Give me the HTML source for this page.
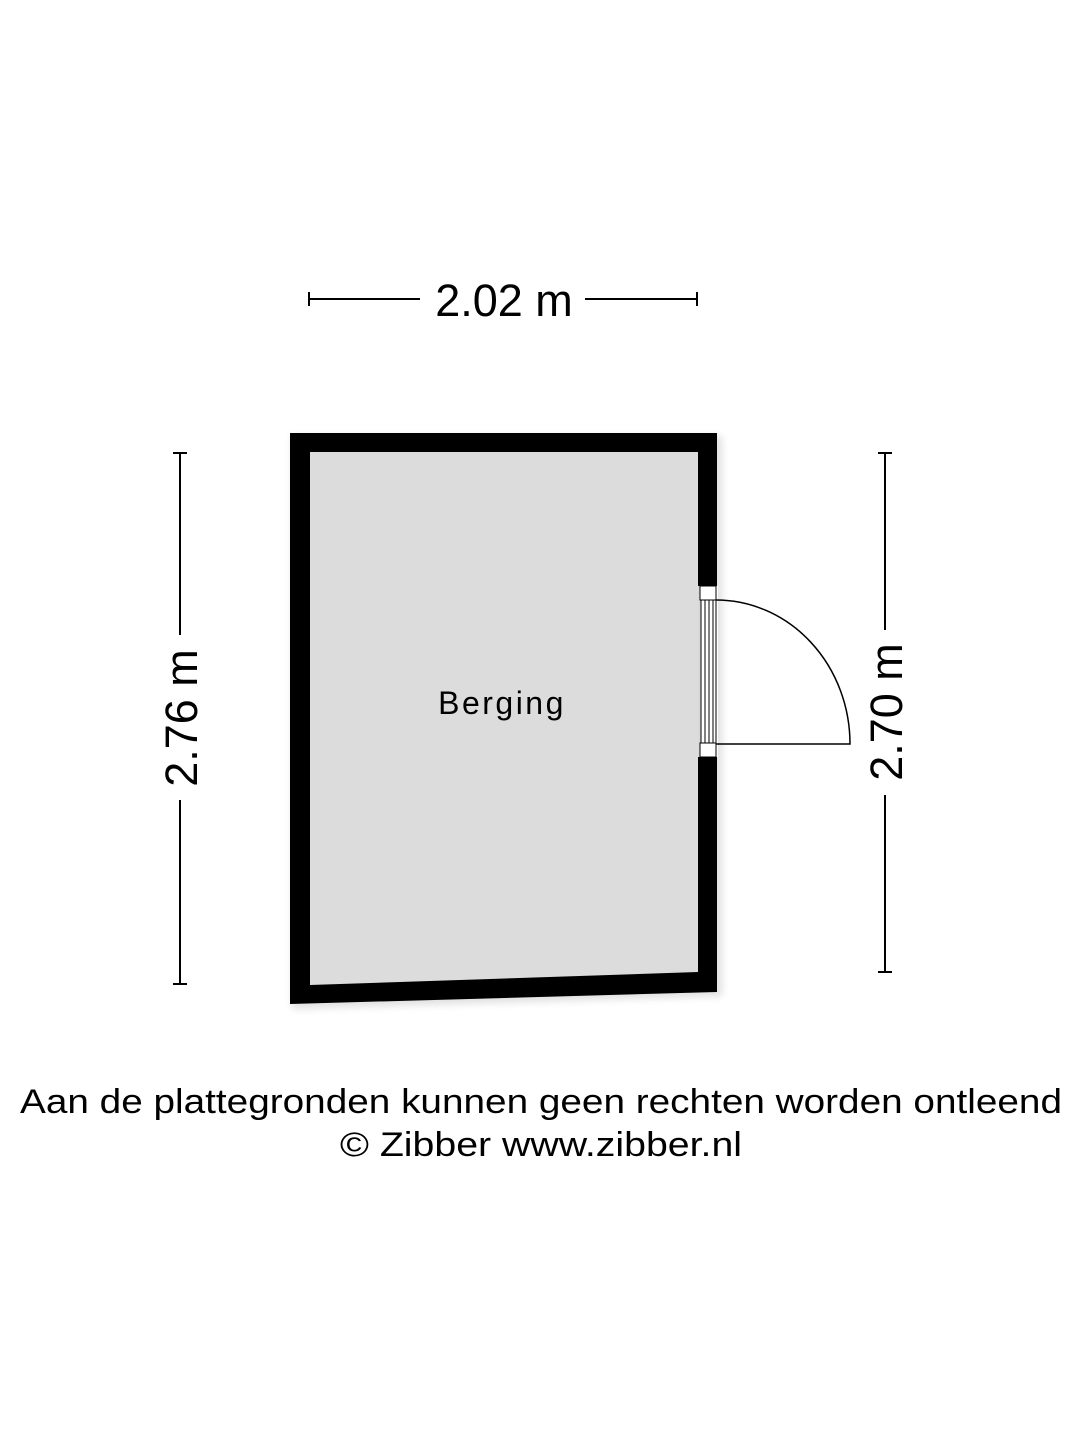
<!DOCTYPE html>
<html><head><meta charset="utf-8"><style>html,body{margin:0;padding:0;background:#fff}svg{display:block}</style></head>
<body>
<svg width="1080" height="1440" viewBox="0 0 1080 1440" xmlns="http://www.w3.org/2000/svg" font-family="Liberation Sans, Arial, sans-serif">
<defs><filter id="sh" x="-10%" y="-10%" width="120%" height="120%"><feGaussianBlur stdDeviation="4"/></filter></defs>
<polygon points="292,436 722,436 722,996 292,1009" fill="#000" opacity="0.12" filter="url(#sh)"/>
<polygon points="290,433 717,433 717,992 290,1004" fill="#000"/>
<polygon points="310,452 698,452 698,972 310,985" fill="#dcdcdc"/>
<rect x="698" y="586" width="20" height="171" fill="#fff"/>
<rect x="698" y="586" width="3" height="171" fill="#d8d8d8"/>
<rect x="700" y="586" width="16" height="14" fill="#fff" stroke="#000" stroke-width="1"/>
<rect x="700" y="743" width="16" height="14" fill="#fff" stroke="#000" stroke-width="1"/>
<g stroke="#000" stroke-width="1" fill="none">
<line x1="701" y1="600" x2="701" y2="743"/><line x1="705" y1="600" x2="705" y2="743"/>
<line x1="709" y1="600" x2="709" y2="743"/><line x1="713" y1="600" x2="713" y2="743"/>
<line x1="716" y1="600" x2="716" y2="743"/>
</g>
<path d="M716,600 A134,144 0 0 1 850,744 L716,744" fill="none" stroke="#000" stroke-width="1.5"/>
<text x="502" y="714" font-size="32" text-anchor="middle" letter-spacing="2.5">Berging</text>
<g stroke="#000" stroke-width="2">
<line x1="308" y1="299" x2="420" y2="299"/><line x1="585" y1="299" x2="698" y2="299"/>
<line x1="309" y1="292" x2="309" y2="306"/><line x1="697" y1="292" x2="697" y2="306"/>
<line x1="180" y1="452" x2="180" y2="635"/><line x1="180" y1="800" x2="180" y2="985"/>
<line x1="173" y1="453" x2="187" y2="453"/><line x1="173" y1="984" x2="187" y2="984"/>
<line x1="885" y1="452" x2="885" y2="630"/><line x1="885" y1="795" x2="885" y2="973"/>
<line x1="878" y1="453" x2="892" y2="453"/><line x1="878" y1="972" x2="892" y2="972"/>
</g>
<text x="504" y="316" font-size="45" text-anchor="middle">2.02 m</text>
<text transform="translate(197,718) rotate(-90)" font-size="45" text-anchor="middle">2.76 m</text>
<text transform="translate(902,712) rotate(-90)" font-size="45" text-anchor="middle">2.70 m</text>
<text x="541" y="1113" font-size="34" text-anchor="middle" textLength="1042" lengthAdjust="spacingAndGlyphs">Aan de plattegronden kunnen geen rechten worden ontleend</text>
<text x="541" y="1156" font-size="34" text-anchor="middle" textLength="402" lengthAdjust="spacingAndGlyphs">© Zibber www.zibber.nl</text>
</svg>
</body></html>
